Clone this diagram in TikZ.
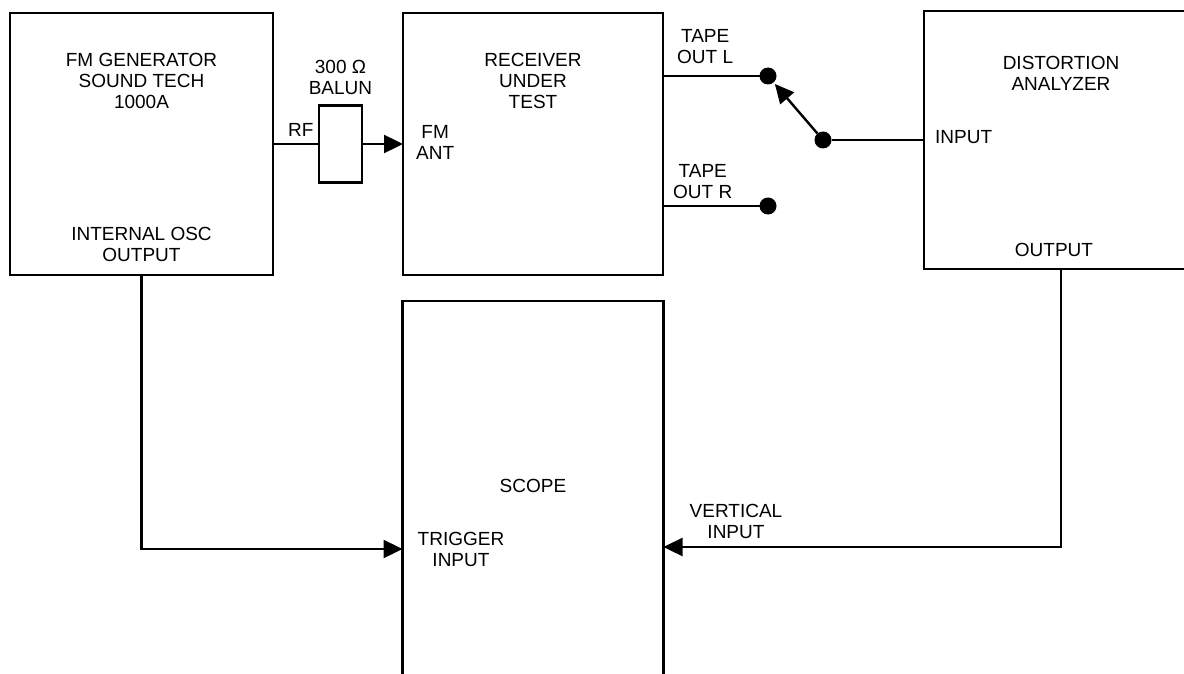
\documentclass[tikz,border=0pt]{standalone}
\usepackage{fontspec}
\setmainfont{Liberation Sans}
\usepackage{tikz}
\usetikzlibrary{arrows.meta, positioning, calc}

\begin{document}
\begin{tikzpicture}[
    x=1pt, y=-1pt,
    node distance=20pt,
    unitbox/.style={
        rectangle,
        draw,
        line width=2.8pt,
        inner sep=0pt,
        outer sep=0pt
    },
    lbl/.style={
        font=\fontsize{19}{21}\selectfont,
        align=center,
        inner sep=0pt
    },
    wire/.style={line width=2.4pt},
    feed/.style={-{Triangle[length=19pt, width=18pt]}, line width=2.4pt},
    jack/.style={circle, fill=black, minimum size=17pt, inner sep=0pt, outer sep=0pt}
]

\useasboundingbox (0,0) rectangle (1184,674);
\clip (0,0) rectangle (1184,674);

% instruments
\node[unitbox, minimum width=263pt, minimum height=262pt] (gen) at (141.5,144) {};
\node[unitbox, minimum width=43pt, minimum height=77pt, right=46pt of gen] (balun) {};
\node[unitbox, minimum width=260pt, minimum height=262pt, right=130pt of gen] (rcv) {};
\node[unitbox, minimum width=274pt, minimum height=258pt, right=261pt of rcv, yshift=4pt] (dist) {};
\node[unitbox, minimum width=261pt, minimum height=420pt, below=26pt of rcv] (scope) {};

% switch contacts
\node[jack] (tapeL) at ($(rcv.north east)+(105,63)$) {};
\node[jack] (tapeR) at ($(rcv.north east)+(105,193)$) {};
\node[jack] (pivot) at ($(dist.west)+(-101,0)$) {};
\coordinate (outL) at (rcv.east |- tapeL);
\coordinate (outR) at (rcv.east |- tapeR);
\coordinate (trig) at ($(scope.north west)+(0,248)$);
\coordinate (vert) at ($(scope.north east)+(0,246)$);

% labels
\node[lbl, below=40pt of gen.north] (genname) {FM GENERATOR\\SOUND TECH\\1000A};
\node[lbl, above=13pt of gen.south] (genosc) {INTERNAL OSC\\OUTPUT};
\node[lbl, above=11pt of balun.north] (balunname) {300 Ω\\BALUN};
\node[lbl, above right=7pt and 15pt of gen.east] (rflbl) {RF};
\node[lbl, below=40pt of rcv.north] (rcvname) {RECEIVER\\UNDER\\TEST};
\node[lbl, right=13pt of rcv.west, yshift=2pt] (antlbl) {FM\\ANT};
\node[lbl, above right=12pt and 14pt of outL] (outLlbl) {TAPE\\OUT L};
\node[lbl, above right=7pt and 10pt of outR] (outRlbl) {TAPE\\OUT R};
\node[lbl, below=45pt of dist.north] (distname) {DISTORTION\\ANALYZER};
\node[lbl, right=11pt of dist.west, yshift=3pt] (inlbl) {INPUT};
\node[lbl, above=12pt of dist.south, xshift=-7pt] (outlbl) {OUTPUT};
\node[lbl, below=178pt of scope.north] (scopename) {SCOPE};
\node[lbl, right=15pt of trig] (triglbl) {TRIGGER\\INPUT};
\node[lbl, above right=8pt and 26pt of vert] (vertlbl) {VERTICAL\\INPUT};

% connections
\draw[wire] (gen.east) -- (balun.west);
\draw[feed] (balun.east) -- (rcv.west);
\draw[wire] (outL) -- (tapeL);
\draw[wire] (outR) -- (tapeR);
\draw[feed, shorten >=2pt] (pivot) -- (tapeL);
\draw[wire] (pivot) -- (dist.west);
\draw[feed] (gen.south) |- (trig);
\draw[feed] (dist.south) |- (vert);

\end{tikzpicture}
\end{document}
